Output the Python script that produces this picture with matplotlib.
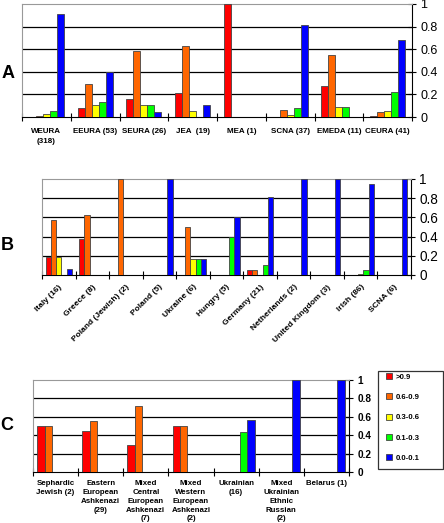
import numpy as np
import matplotlib
matplotlib.use('Agg')
import matplotlib.pyplot as plt
from matplotlib.patches import Rectangle

plt.rcParams['font.family'] = ['Liberation Sans', 'DejaVu Sans']

# Кольори та легенда
colors = ['#ff0000', '#ff6600', '#ffff00', '#00ff00', '#0000ff']
legend_labels = ['>0.9', '0.6-0.9', '0.3-0.6', '0.1-0.3', '0.0-0.1']

# Панель A
a_labels = ['WEURA\n(318)', 'EEURA (53)', 'SEURA (26)', 'JEA  (19)', 'MEA (1)',
            'SCNA (37)', 'EMEDA (11)', 'CEURA (41)']
a_red = [0.003, 0.08, 0.16, 0.21, 1.0, 0.0, 0.27, 0.01]
a_orange = [0.008, 0.29, 0.58, 0.63, 0.0, 0.06, 0.55, 0.04]
a_yellow = [0.025, 0.11, 0.11, 0.05, 0.0, 0.02, 0.09, 0.05]
a_green = [0.055, 0.13, 0.11, 0.0, 0.0, 0.08, 0.09, 0.22]
a_blue = [0.91, 0.40, 0.04, 0.11, 0.0, 0.81, 0.0, 0.68]

# Панель B
b_labels = ['Italy (16)', 'Greece (8)', 'Poland (Jewish) (2)', 'Poland (5)',
            'Ukraine (6)', 'Hungry (5)', 'Germany (21)', 'Netherlands (2)',
            'United Kingdom (3)', 'Irish (86)', 'SCNA (6)']
b_red = [0.19, 0.38, 0, 0, 0, 0, 0.05, 0, 0, 0, 0]
b_orange = [0.57, 0.63, 1.0, 0, 0.50, 0, 0.05, 0, 0, 0, 0]
b_yellow = [0.19, 0, 0, 0, 0.17, 0, 0, 0, 0, 0.01, 0]
b_green = [0, 0, 0, 0, 0.17, 0.40, 0.10, 0, 0, 0.05, 0]
b_blue = [0.06, 0, 0, 1.0, 0.17, 0.60, 0.81, 1.0, 1.0, 0.95, 1.0]

# Панель C
c_labels = ['Sephardic\nJewish (2)', 'Eastern\nEuropean\nAshkenazi\n(29)',
            'Mixed\nCentral\nEuropean\nAshkenazi\n(7)',
            'Mixed\nWestern\nEuropean\nAshkenazi\n(2)', 'Ukrainian\n(16)',
            'Mixed\nUkrainian\nEthnic\nRussian\n(2)', 'Belarus (1)']
c_red = [0.5, 0.45, 0.29, 0.5, 0, 0, 0]
c_orange = [0.5, 0.55, 0.72, 0.5, 0, 0, 0]
c_yellow = [0, 0, 0, 0, 0, 0, 0]
c_green = [0, 0, 0, 0, 0.44, 0, 0]
c_blue = [0, 0, 0, 0, 0.56, 1.0, 1.0]

W, H = 444, 523
fig = plt.figure(figsize=(W / 100, H / 100), dpi=100)


def make_axes(left, right, top, bottom):
    return fig.add_axes([left / W, 1 - bottom / H, (right - left) / W, (bottom - top) / H])


def draw_panel(ax, labels, series, w, tick_fs, tick_bold):
    n = len(labels)
    x = np.arange(n)
    bars = []
    for j, (vals, col) in enumerate(zip(series, colors)):
        b = ax.bar(x + (j - 2) * w, vals, w, color=col, edgecolor='#444444',
                   linewidth=0.6, zorder=3)
        bars.append(b)
    ax.set_xlim(-0.5, n - 0.5)
    ax.set_ylim(0, 1)
    for yv in [0.2, 0.4, 0.6, 0.8]:
        ax.axhline(yv, color='black', linewidth=0.9, zorder=1)
    ax.spines['left'].set_color('#999999')
    ax.spines['top'].set_color('#999999')
    ax.spines['right'].set_color('black')
    ax.spines['bottom'].set_color('black')
    ax.yaxis.tick_right()
    ax.set_yticks([0, 0.2, 0.4, 0.6, 0.8, 1])
    ax.set_yticklabels(['0', '0.2', '0.4', '0.6', '0.8', '1'],
                       fontsize=tick_fs, fontweight='bold' if tick_bold else 'normal')
    ax.tick_params(axis='y', direction='inout', length=6, pad=3)
    ax.set_xticks(np.arange(n + 1) - 0.5)
    ax.set_xticklabels([])
    ax.tick_params(axis='x', which='major', direction='inout', length=6)
    ax.set_xticks(x, minor=True)
    ax.tick_params(axis='x', which='minor', length=0)
    return bars


# A
axA = make_axes(22, 412, 4, 117)
draw_panel(axA, a_labels, [a_red, a_orange, a_yellow, a_green, a_blue], 0.143, 9, False)
axA.set_xticklabels(a_labels, minor=True, fontsize=5.8, fontweight='bold',
                    linespacing=1.5, va='top')
axA.tick_params(axis='x', which='minor', pad=8)

# B
axB = make_axes(42, 411, 179, 275)
draw_panel(axB, b_labels, [b_red, b_orange, b_yellow, b_green, b_blue], 0.157, 9.8, False)
axB.set_xticklabels(b_labels, minor=True, fontsize=6, fontweight='bold',
                    rotation=45, ha='right', rotation_mode='anchor')
axB.tick_params(axis='x', which='minor', pad=6)

# C
axC = make_axes(33, 349, 380, 472)
bars = draw_panel(axC, c_labels, [c_red, c_orange, c_yellow, c_green, c_blue], 0.163, 7.2, True)
axC.set_xticklabels(c_labels, minor=True, fontsize=5.7, fontweight='bold',
                    linespacing=1.35, va='top')
axC.tick_params(axis='x', which='minor', pad=6)

# Легенда з окремою рамкою
fig.patches.append(Rectangle((378 / W, 1 - 469 / H), 65 / W, 98 / H,
                             transform=fig.transFigure, facecolor='white',
                             edgecolor='#333333', linewidth=0.9, zorder=1))
leg = fig.legend([b[0] for b in bars], legend_labels, loc='upper left',
                 bbox_to_anchor=(386 / W, 1 - 373 / H), frameon=False,
                 prop={'size': 5.6, 'weight': 'bold'}, handlelength=0.8,
                 handleheight=0.8, handletextpad=0.5, labelspacing=1.62,
                 borderpad=0, borderaxespad=0)

# Підписи панелей
fig.text(8 / W, 1 - 73 / H, 'A', fontsize=13, fontweight='bold', ha='center', va='center')
fig.text(7 / W, 1 - 245 / H, 'B', fontsize=13, fontweight='bold', ha='center', va='center')
fig.text(7 / W, 1 - 426 / H, 'C', fontsize=13, fontweight='bold', ha='center', va='center')

fig.savefig('out.png', dpi=100)
